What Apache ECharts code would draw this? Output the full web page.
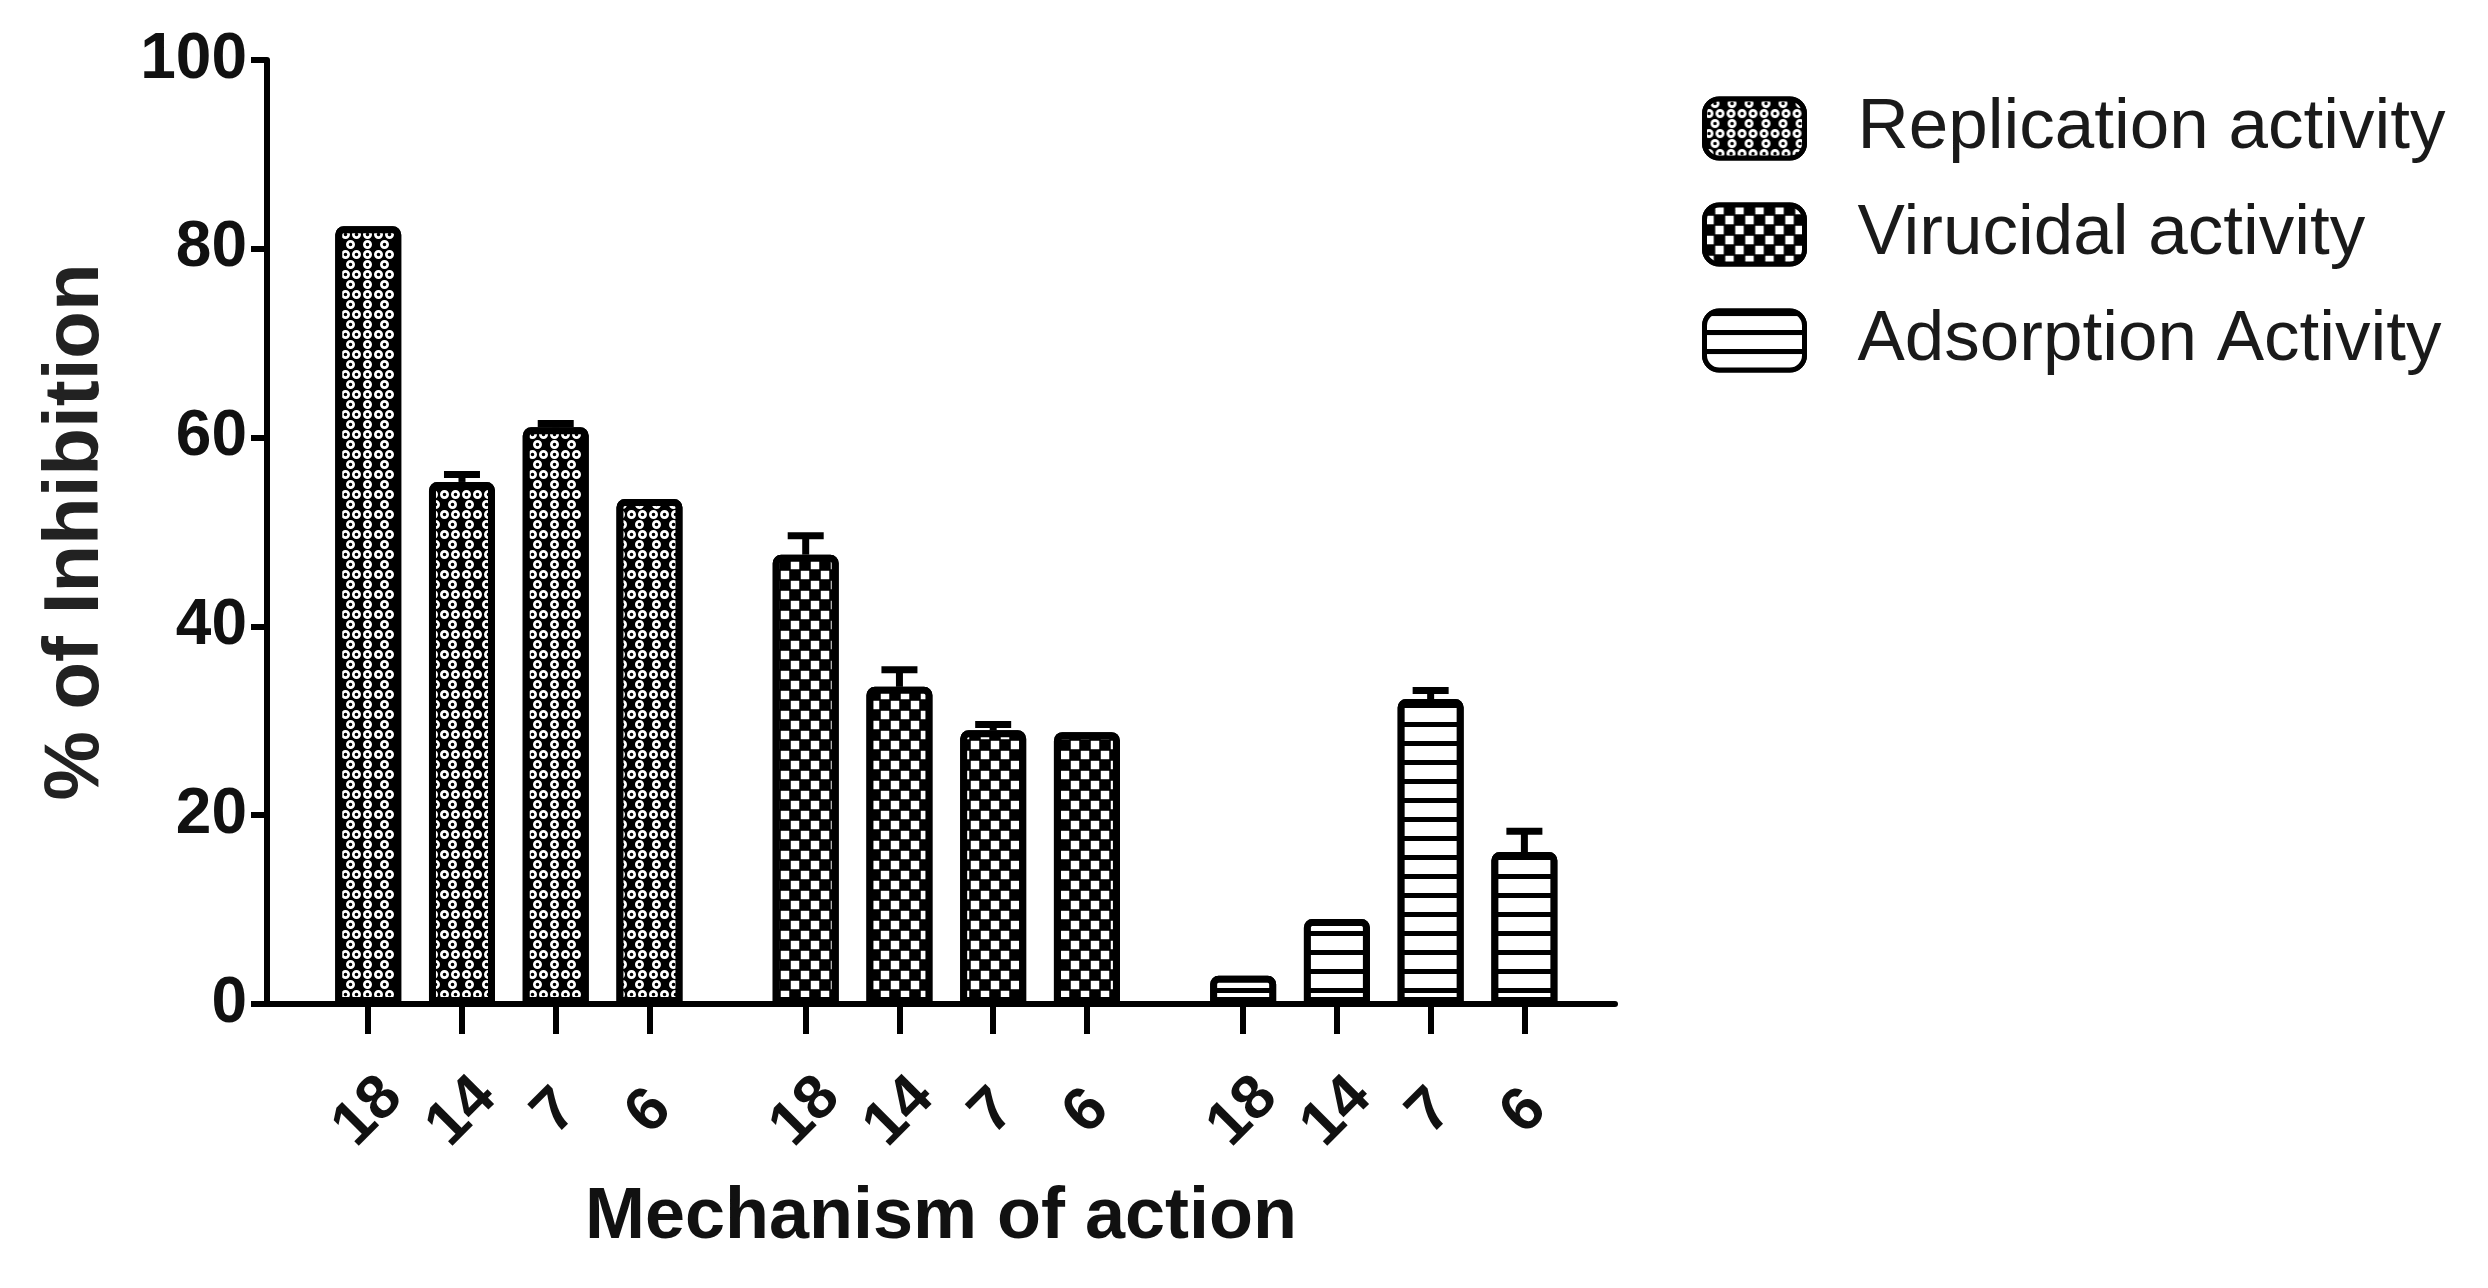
<!DOCTYPE html>
<html><head><meta charset="utf-8">
<script src="https://cdn.jsdelivr.net/npm/echarts@6/dist/echarts.min.js"></script>
<style>html,body{margin:0;padding:0;background:#fff}#c{width:2488px;height:1288px}</style>
</head><body><div id="c"></div>
<script>
// ---- data ----
const doses = ['18', '14', '7', '6'];
const seriesNames = ['Replication activity', 'Virucidal activity', 'Adsorption Activity'];
const replication = [82.4, 55.3, 61.1, 53.5];
const replicationErr = [0, 0.8, 0.4, 0];
const virucidal = [47.6, 33.6, 29.0, 28.8];
const virucidalErr = [2.0, 1.8, 0.6, 0];
const adsorption = [3.0, 9.0, 32.3, 16.1];
const adsorptionErr = [0, 0, 0.9, 2.2];
const yMin = 0, yMax = 100, yStep = 20;
const xTitle = 'Mechanism of action';
const yTitle = '% of Inhibition';

// ---- layout: bar slots along a numeric x axis (1 unit = one bar step, groups separated by an extra gap) ----
const GROUP_GAP = 2 / 3;
const X_MIN = -1.08, X_MAX = 13.3;
const groupsVals = [replication, virucidal, adsorption];
const groupsErr = [replicationErr, virucidalErr, adsorptionErr];
const slotPos = (g, i) => g * (doses.length + GROUP_GAP) + i;
const tickPositions = [];
const tickLabelMap = {};
groupsVals.forEach((vals, g) => doses.forEach((d, i) => {
  const p = slotPos(g, i);
  tickPositions.push(p);
  tickLabelMap[p.toFixed(3)] = d;
}));

const NUM_FONT = '"Liberation Sans", Arial, sans-serif';

const decals = [
  { // white rings on black
    symbol: 'path://M0,5a5,5 0 1,0 10,0a5,5 0 1,0 -10,0ZM3,5a2,2 0 1,1 4,0a2,2 0 1,1 -4,0Z',
    symbolSize: 1, color: '#ffffff', backgroundColor: '#000000',
    dashArrayX: [[9, 2], [0, 5.5, 9, 2, 0, 0]], dashArrayY: [9, 1], rotation: 0
  },
  { // checker
    symbol: 'rect', symbolSize: 0.85, color: '#ffffff', backgroundColor: '#000000',
    dashArrayX: [[10, 10], [0, 10, 10, 0]], dashArrayY: [10, 0], rotation: 0
  },
  { // horizontal lines
    symbol: 'rect', symbolSize: 1, color: '#000000', backgroundColor: '#ffffff',
    dashArrayX: [40, 0], dashArrayY: [5, 14], rotation: 0
  }
];

const barSeries = groupsVals.map((vals, g) => ({
  name: seriesNames[g], type: 'bar',
  data: vals.map((v, i) => [slotPos(g, i), v]),
  barWidth: 66, barGap: '-100%',
  itemStyle: {
    color: g === 2 ? '#ffffff' : '#000000',
    borderColor: '#000000', borderWidth: 7, borderRadius: [5, 5, 0, 0],
    decal: decals[g]
  },
  emphasis: { disabled: true }
}));

const errData = [];
groupsVals.forEach((vals, g) => vals.forEach((v, i) => {
  if (groupsErr[g][i] > 0) errData.push([slotPos(g, i), v, groupsErr[g][i]]);
}));

const errSeries = {
  type: 'custom', data: errData, z: 5, silent: true,
  renderItem: (params, api) => {
    const base = api.coord([api.value(0), api.value(1)]);
    const top = api.coord([api.value(0), api.value(1) + api.value(2)]);
    const half = 18;
    return {
      type: 'group', children: [
        { type: 'line', shape: { x1: base[0], y1: base[1], x2: top[0], y2: top[1] },
          style: { stroke: '#000', lineWidth: 7 } },
        { type: 'line', shape: { x1: top[0] - half, y1: top[1], x2: top[0] + half, y2: top[1] },
          style: { stroke: '#000', lineWidth: 7 } }
      ]
    };
  }
};

const chart = echarts.init(document.getElementById('c'), null, { renderer: 'canvas' });
chart.setOption({
  animation: false,
  backgroundColor: '#ffffff',
  grid: { left: 267, right: 873, top: 60, bottom: 284, containLabel: false },
  legend: {
    orient: 'vertical', left: 1697, top: 88,
    itemWidth: 100, itemHeight: 59, itemGap: 35,
    icon: 'roundRect',
    data: seriesNames,
    textStyle: { fontFamily: NUM_FONT, fontSize: 71, color: '#1a1a1a', padding: [0, 0, 0, 48] },
    itemStyle: { borderColor: '#000', borderWidth: 5 }
  },
  xAxis: {
    type: 'value', min: X_MIN, max: X_MAX,
    name: xTitle, nameLocation: 'middle', nameGap: 178,
    nameTextStyle: { fontFamily: NUM_FONT, fontWeight: 'bold', fontSize: 72, color: '#111' },
    axisLine: { show: true, onZero: false, lineStyle: { color: '#000', width: 6 } },
    axisTick: { show: true, length: 30, lineStyle: { color: '#000', width: 6 }, customValues: tickPositions },
    axisLabel: {
      customValues: tickPositions, showMinLabel: true, showMaxLabel: true,
      formatter: (v) => tickLabelMap[Number(v).toFixed(3)] || '',
      rotate: 45, align: 'center', verticalAlign: 'middle',
      margin: 108, fontFamily: NUM_FONT, fontWeight: 'bold', fontSize: 62, color: '#111'
    },
    splitLine: { show: false }
  },
  yAxis: {
    type: 'value', min: yMin, max: yMax, interval: yStep,
    name: yTitle, nameLocation: 'middle', nameGap: 152, nameRotate: 90,
    nameTextStyle: { fontFamily: NUM_FONT, fontWeight: 'bold', fontSize: 78, color: '#222' },
    axisLine: { show: true, onZero: false, lineStyle: { color: '#000', width: 6 } },
    axisTick: { show: true, length: 16, lineStyle: { color: '#000', width: 6 } },
    axisLabel: { margin: 20, fontFamily: NUM_FONT, fontWeight: 'bold', fontSize: 64, color: '#111' },
    splitLine: { show: false }
  },
  series: [...barSeries, errSeries]
});
</script></body></html>
